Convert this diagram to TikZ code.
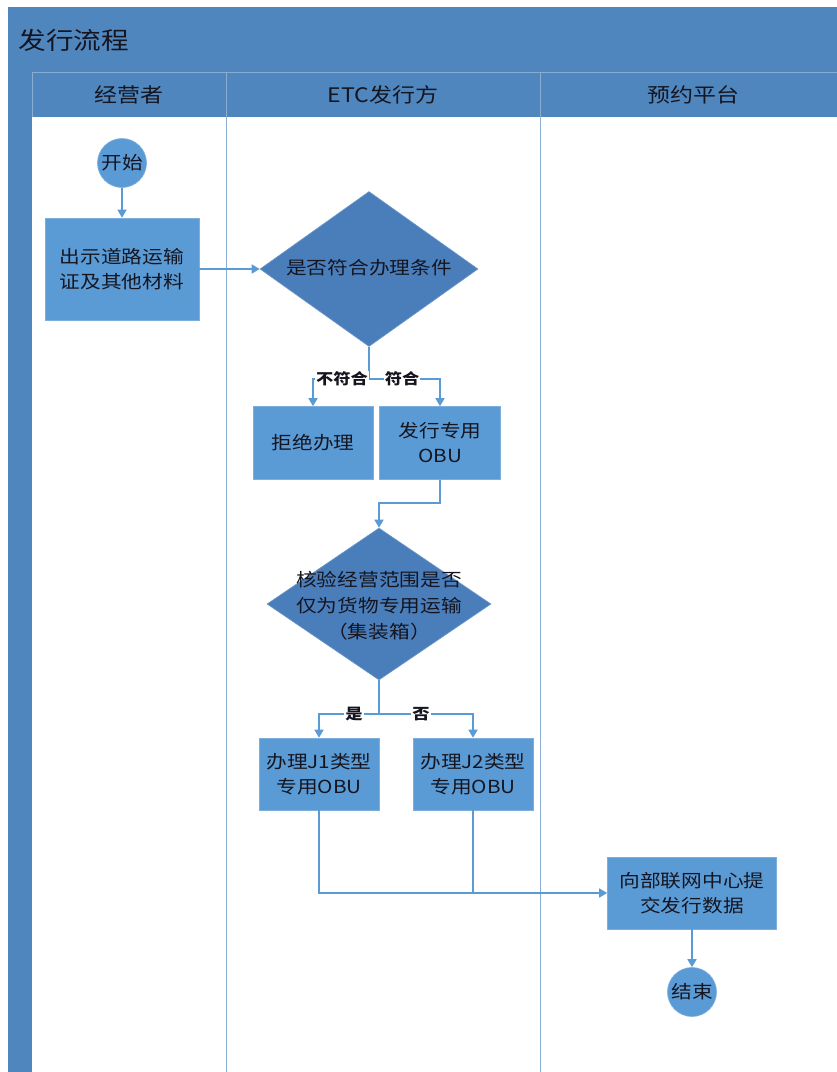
\documentclass[tikz,border=0pt]{standalone}
\usepackage{fontspec}
\setmainfont[FakeStretch=1.15]{Noto Sans CJK SC}
\usetikzlibrary{shapes.geometric,arrows.meta}
\definecolor{barblue}{HTML}{4F86BE}
\definecolor{boxblue}{HTML}{5B9BD5}
\definecolor{diablue}{HTML}{4A7EBB}
\definecolor{lineblue}{HTML}{5B9BD5}
\definecolor{laneline}{HTML}{8AAED3}
\definecolor{txt}{HTML}{151520}
\tikzset{
  box/.style={rectangle, fill=boxblue, draw=boxblue!80!white, line width=0.6pt, inner sep=0pt, align=center, text=txt, font=\fontsize{18}{25}\selectfont},
  dia/.style={diamond, fill=diablue, draw=diablue!80!white, line width=0.6pt, inner sep=0pt},
  diatext/.style={align=center, text=txt, font=\fontsize{18}{26}\selectfont, inner sep=0pt},
  term/.style={circle, fill=boxblue, draw=boxblue!80!white, line width=0.6pt, minimum size=49pt, inner sep=0pt, text=txt, font=\fontsize{18}{25}\selectfont},
  conn/.style={draw=lineblue, line width=1.5pt},
  arr/.style={conn, -{Triangle[width=9pt,length=8pt]}},
  lab/.style={fill=white, inner sep=1pt, text=txt, font=\fontsize{15}{18}\selectfont\bfseries},
  headtext/.style={text=txt, font=\fontsize{20}{24}\selectfont},
}
\begin{document}
\begin{tikzpicture}[x=1pt,y=-1pt]
\useasboundingbox (0,0) rectangle (837,1072);
\fill[white] (0,0) rectangle (837,1072);
% frame
\fill[barblue] (8,7) rectangle (837,72);
\fill[barblue] (8,72) rectangle (837,117);
\fill[barblue] (8,117) rectangle (32,1072);
\fill[white] (32,117) rectangle (837,1072);
\draw[laneline, line width=0.8pt] (32,72) -- (837,72);
\draw[laneline, line width=0.8pt] (32,72) -- (32,117);
\draw[laneline, line width=0.8pt] (226,72) -- (226,1072);
\draw[laneline, line width=0.8pt] (540,72) -- (540,1072);
\node[text=txt, font=\fontsize{24}{28}\selectfont, anchor=west] (title) at (15,40) {发行流程};
\node[headtext] (h1) at (129,95) {经营者};
\node[headtext] (h2) at (383,95) {ETC发行方};
\node[headtext] (h3) at (693,95) {预约平台};
% nodes
\node[term] (start) at (122,163) {开始};
\node[box, minimum width=154pt, minimum height=102pt] (mat) at (122,269) {出示道路运输\\证及其他材料};
\node[dia, minimum width=218pt, minimum height=155pt] (d1) at (369,269) {};
\node[diatext] (d1t) at (369,268) {是否符合办理条件};
\node[box, minimum width=120pt, minimum height=73pt] (rej) at (313,443) {拒绝办理};
\node[box, minimum width=121pt, minimum height=73pt] (obu) at (440,443) {发行专用\\OBU};
\node[dia, minimum width=224pt, minimum height=152pt] (d2) at (379,604) {};
\node[diatext] (d2t) at (379,606) {核验经营范围是否\\仅为货物专用运输\\（集装箱）};
\node[box, minimum width=120pt, minimum height=72pt] (j1) at (319,774) {办理J1类型\\专用OBU};
\node[box, minimum width=120pt, minimum height=72pt] (j2) at (473,774) {办理J2类型\\专用OBU};
\node[box, minimum width=169pt, minimum height=72pt] (sub) at (692,893) {向部联网中心提\\交发行数据};
\node[term] (end) at (692,992) {结束};
% connectors
\coordinate (b1) at (369,379);
\coordinate (b2) at (440,503);
\coordinate (b3) at (379,714);
\draw[arr] (start) -- (mat);
\draw[arr] (mat.east) -- (d1.west);
\draw[conn] (d1.south) -- (b1);
\draw[arr] (b1) -| (rej.north);
\draw[arr] (b1) -| (obu.north);
\node[lab] (l1) at (342,379) {不符合};
\node[lab] (l2) at (402,379) {符合};
\draw[arr] (obu.south) -- (b2) -| (d2.north);
\draw[conn] (d2.south) -- (b3);
\draw[arr] (b3) -| (j1.north);
\draw[arr] (b3) -| (j2.north);
\node[lab] (l3) at (354,714) {是};
\node[lab] (l4) at (421,714) {否};
\draw[arr] (j1.south) |- (sub.west);
\draw[conn] (j2.south) -- (j2.south |- sub.west);
\draw[arr] (sub) -- (end);
\end{tikzpicture}
\end{document}
